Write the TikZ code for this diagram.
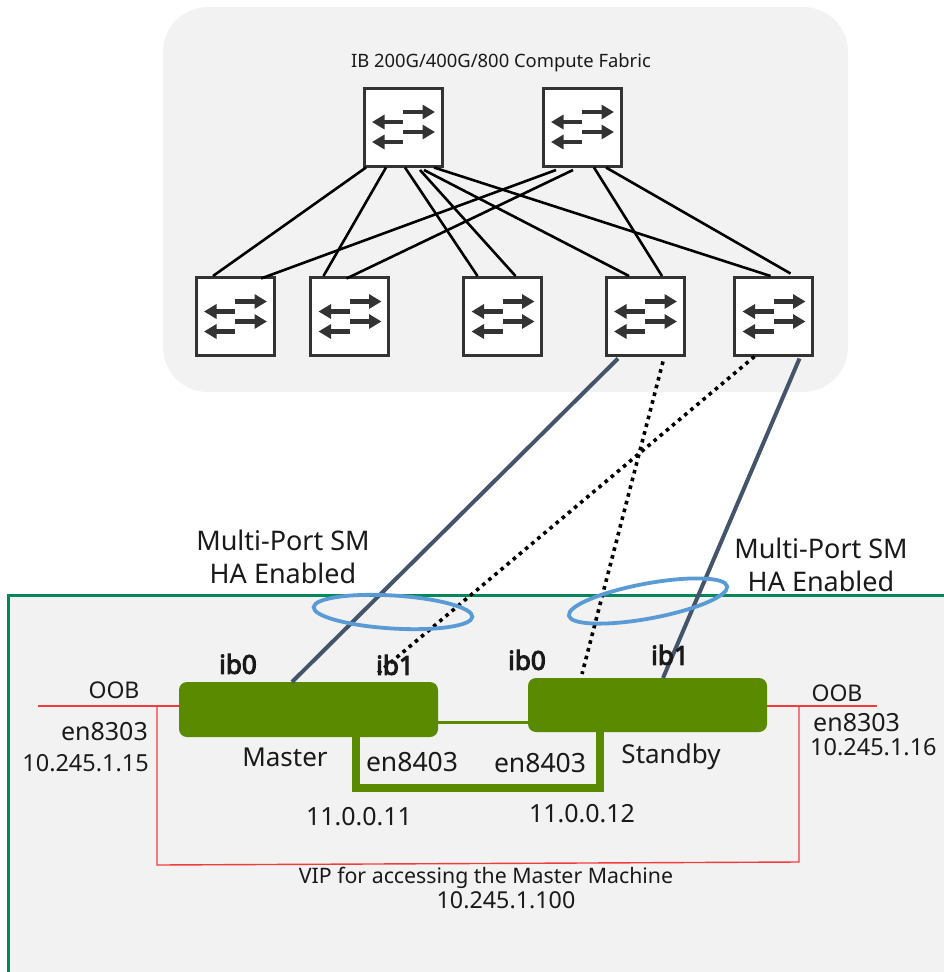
\documentclass[tikz,border=0pt]{standalone}
\usepackage{fontspec}
\setmainfont{Noto Sans}
\newfontfamily\ibfont{Noto Sans}[FakeBold=4]
\usetikzlibrary{arrows.meta,shapes.geometric}
\definecolor{panel}{HTML}{F2F2F2}
\definecolor{frame}{HTML}{00875A}
\definecolor{nvgreen}{HTML}{5A8A00}
\definecolor{slate}{HTML}{44546A}
\definecolor{ring}{HTML}{5B9BD5}
\definecolor{swgray}{HTML}{333333}
\definecolor{ink}{HTML}{1A1A1A}
\definecolor{oobred}{HTML}{F23C3C}
\tikzset{
  swarrow/.style={draw=swgray, line width=4.5pt, -{Triangle[length=12.5pt,width=14pt]}},
  switchbox/.style={draw=swgray, line width=3pt, fill=white, minimum width=78pt,
    minimum height=78pt, inner sep=0pt, outer sep=0pt,
    path picture={
      \foreach \dy in {24,44}
        \draw[swarrow] ([xshift=39pt,yshift=-\dy pt]path picture bounding box.north west) -- ++(32,0);
      \foreach \dy in {34,54}
        \draw[swarrow] ([xshift=39pt,yshift=-\dy pt]path picture bounding box.north west) -- ++(-31,0);
    }},
  fabric/.style={draw=black, line width=2.6pt},
  uplink/.style={draw=slate, line width=4pt},
  dotlink/.style={draw=black, line width=3.6pt, dash pattern=on 3.6pt off 4.4pt},
  gbox/.style={fill=nvgreen, draw=none, rounded corners=8pt, inner sep=0pt, outer sep=0pt},
  gline/.style={draw=nvgreen, line width=3pt},
  gpath/.style={draw=nvgreen, line width=8pt, line join=miter},
  redline/.style={draw=oobred, line width=1.4pt},
  ringstyle/.style={ellipse, draw=ring, line width=3.8pt, inner sep=0pt, fill=none},
  lbl/.style={text=ink, inner sep=0pt, font=\fontsize{25}{30}\selectfont},
  iplbl/.style={text=ink, inner sep=0pt, font=\fontsize{23.5}{28}\selectfont},
  iblbl/.style={text=ink, inner sep=0pt, font=\fontsize{26}{30}\ibfont},
  smlbl/.style={text=ink, inner sep=0pt, align=center, font=\fontsize{27}{33}\selectfont},
}
\begin{document}
\begin{tikzpicture}[x=1pt, y=-1pt]
\useasboundingbox (0,0) rectangle (943,972);
\fill[white] (0,0) rectangle (943,972);
% panels
\fill[panel, rounded corners=45pt] (163,7) rectangle (848,392);
\draw[draw=frame, line width=3pt, fill=panel] (8,595) rectangle (965,995);
% title
\node[text=ink, inner sep=0pt, font=\fontsize{18.4}{21}\selectfont] (title) at (501,63) {IB 200G/400G/800 Compute Fabric};
% switches
\node[switchbox] (t1) at (403,127) {};
\node[switchbox] (t2) at (582,127) {};
\node[switchbox] (b1) at (235,316.5) {};
\node[switchbox] (b2) at (349.5,316.5) {};
\node[switchbox] (b3) at (502.5,316.5) {};
\node[switchbox] (b4) at (645,316.5) {};
\node[switchbox] (b5) at (773.5,316.5) {};
% fabric links
\draw[fabric] ([xshift=2pt,yshift=-1.5pt]t1.south west) -- ([xshift=17pt,yshift=1.5pt]b1.north west);
\draw[fabric] ([xshift=22pt,yshift=-1.5pt]t1.south west) -- ([xshift=13pt,yshift=1.5pt]b2.north west);
\draw[fabric] ([xshift=41pt,yshift=-1.5pt]t1.south west) -- ([xshift=14pt,yshift=1.5pt]b3.north west);
\draw[fabric] ([xshift=56pt,yshift=-4pt]t1.south west) -- ([xshift=52pt,yshift=1.5pt]b3.north west);
\draw[fabric] ([xshift=60pt,yshift=-4pt]t1.south west) -- ([xshift=23pt,yshift=1.5pt]b4.north west);
\draw[fabric] ([xshift=70pt,yshift=-1.5pt]t1.south west) -- ([xshift=36pt,yshift=1.5pt]b5.north west);
\draw[fabric] ([xshift=13pt,yshift=-4pt]t2.south west) -- ([xshift=65pt,yshift=-1pt]b1.north west);
\draw[fabric] ([xshift=30pt,yshift=-4pt]t2.south west) -- ([xshift=36pt,yshift=-1pt]b2.north west);
\draw[fabric] ([xshift=51pt,yshift=-1.5pt]t2.south west) -- ([xshift=56pt,yshift=1.5pt]b4.north west);
\draw[fabric] ([xshift=63pt,yshift=-1.5pt]t2.south west) -- ([xshift=56pt,yshift=4pt]b5.north west);
% multi-port labels
\node[smlbl] (smL) at (283,557) {Multi-Port SM\\HA Enabled};
\node[smlbl] (smR) at (821,565) {Multi-Port SM\\HA Enabled};
% hosts
\node[gbox, minimum width=259pt, minimum height=55pt] (master) at (308.5,709.5) {};
\node[gbox, minimum width=239pt, minimum height=54pt] (standby) at (647.5,705) {};
\draw[gline] ([yshift=-12.5pt]master.east) -- ([yshift=-17pt]standby.west);
\draw[gpath] ([xshift=177pt]master.south west) -- ++(0,51) -| ([xshift=72pt]standby.south west);
% OOB / VIP red lines
\coordinate (oobL) at (38,706);
\coordinate (oobLj) at (157,706);
\coordinate (vipL) at (157,865);
\coordinate (vipR) at (799,862);
\coordinate (oobRj) at (799,706);
\coordinate (oobR) at (877,706);
\draw[redline] (oobL) -- (master.west |- oobL);
\draw[redline] (standby.east |- oobR) -- (oobR);
\draw[redline] (oobLj) -- (vipL) -- (vipR) -- (oobRj);
% uplinks
\draw[uplink] ([xshift=12pt,yshift=-3pt]b4.south west) -- ([xshift=113pt]master.north west);
\draw[dotlink] ([xshift=57pt,yshift=-6pt]b4.south west) -- ([xshift=54pt,yshift=4pt]standby.north west);
\draw[dotlink] ([xshift=20pt,yshift=-1pt]b5.south west) -- ([xshift=198pt,yshift=8pt]master.north west);
\draw[uplink] ([xshift=65pt,yshift=-3pt]b5.south west) -- ([xshift=135pt]standby.north west);
% rings
\node[ringstyle, minimum width=159pt, minimum height=33pt, rotate=-3.5] (ringL) at (393,612) {};
\node[ringstyle, minimum width=161pt, minimum height=35pt, rotate=10.5] (ringR) at (648,601) {};
% port labels
\node[iblbl] (ib0m) at (238,664) {ib0};
\node[iblbl] (ib1m) at (395,665) {ib1};
\node[iblbl] (ib0s) at (527,660) {ib0};
\node[iblbl] (ib1s) at (670,655) {ib1};
% host labels
\node[lbl, font=\fontsize{23}{28}\selectfont] (oobLt) at (114,690) {OOB};
\node[lbl, font=\fontsize{23}{28}\selectfont] (oobRt) at (837,693) {OOB};
\node[lbl, anchor=east] (enL) at (148,732) {en8303};
\node[iplbl, anchor=east] (ipL) at (149,763) {10.245.1.15};
\node[lbl, anchor=west] (enR) at (813,723) {en8303};
\node[iplbl, anchor=west] (ipR) at (810,747) {10.245.1.16};
\node[lbl, font=\fontsize{26}{30}\selectfont] (mlbl) at (285,757) {Master};
\node[lbl, font=\fontsize{26}{30}\selectfont] (slbl) at (671,757) {Standby};
\node[lbl, font=\fontsize{26.5}{30}\selectfont] (enm) at (412,762) {en8403};
\node[lbl, font=\fontsize{26.5}{30}\selectfont] (ens) at (540,763) {en8403};
\node[lbl] (ipm) at (359,817) {11.0.0.11};
\node[lbl] (ips) at (582,814) {11.0.0.12};
\node[lbl, font=\fontsize{21.3}{25}\selectfont] (vip) at (486,878) {VIP for accessing the Master Machine};
\node[lbl, font=\fontsize{23.3}{27}\selectfont] (vipip) at (506,900) {10.245.1.100};
\end{tikzpicture}
\end{document}
